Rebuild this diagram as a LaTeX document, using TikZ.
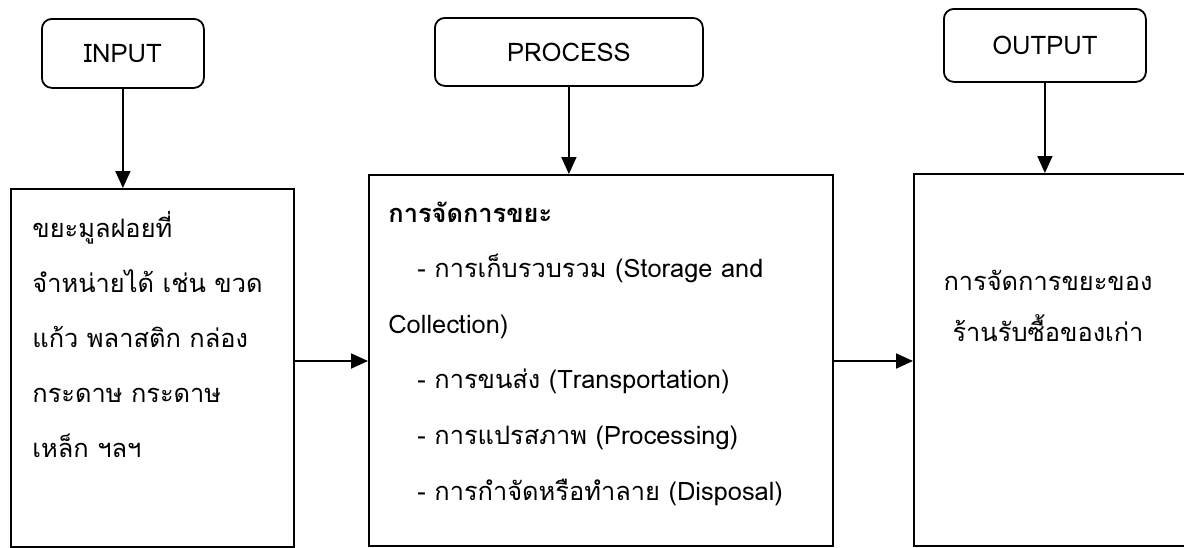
\documentclass[tikz,border=0pt]{standalone}
\usepackage{fontspec}
\setmainfont[Script=Thai]{Loma}
\usetikzlibrary{arrows.meta}

\begin{document}
\begin{tikzpicture}[x=0.5pt,y=-0.5pt,
    tag/.style={draw,line width=0.9pt,rounded corners=5pt,inner sep=0pt,anchor=north west,font=\fontsize{12.8}{15}\selectfont},
    bigbox/.style={draw,line width=0.9pt,inner sep=0pt,anchor=north west},
    txt/.style={inner sep=0pt,align=left,font=\fontsize{12.7}{27.5}\selectfont},
    arr/.style={line width=0.9pt,-{Triangle[length=8.5pt,width=7.5pt]}}]
    \useasboundingbox (0,0) rectangle (1184,547);
    % top labels
    \node[tag,minimum width=81pt,minimum height=34.5pt] (in) at (41,18) {INPUT};
    \node[tag,minimum width=134pt,minimum height=34pt] (proc) at (434,17) {PROCESS};
    \node[tag,minimum width=101pt,minimum height=36.5pt] (out) at (943,8) {OUTPUT};
    % boxes (the last one runs past the right edge)
    \node[bigbox,minimum width=141.5pt,minimum height=179pt] (inbox) at (10,188) {};
    \node[bigbox,minimum width=232pt,minimum height=185.5pt] (procbox) at (368,174) {};
    \node[bigbox,minimum width=200pt,minimum height=186pt] (outbox) at (913,173) {};
    % box texts (anchored on the last line)
    \node[txt,anchor=base west] (intxt) at (32,457)
        {ขยะมูลฝอยที่\\จำหน่ายได้ เช่น ขวด\\แก้ว พลาสติก กล่อง\\กระดาษ กระดาษ\\เหล็ก ฯลฯ};
    \node[txt,anchor=base west,font=\fontsize{12.7}{27.8}\selectfont] (proctxt) at (388,500)
        {\textbf{การจัดการขยะ}\\
         \rule{14.5pt}{0pt}- การเก็บรวบรวม (Storage and\\
         Collection)\\
         \rule{14.5pt}{0pt}- การขนส่ง (Transportation)\\
         \rule{14.5pt}{0pt}- การแปรสภาพ (Processing)\\
         \rule{14.5pt}{0pt}- การกำจัดหรือทำลาย (Disposal)};
    \node[txt,align=center,anchor=base,font=\fontsize{12.7}{25.5}\selectfont] (outtxt) at (1048,341)
        {การจัดการขยะของ\\ร้านรับซื้อของเก่า};
    % connectors
    \coordinate (lvl) at (0,361);
    \draw[arr] (in.south) -- (in.south |- inbox.north);
    \draw[arr] (proc.south) -- (proc.south |- procbox.north);
    \draw[arr] (out.south) -- (out.south |- outbox.north);
    \draw[arr] (inbox.east |- lvl) -- (procbox.west |- lvl);
    \draw[arr] (procbox.east |- lvl) -- (outbox.west |- lvl);
\end{tikzpicture}
\end{document}
